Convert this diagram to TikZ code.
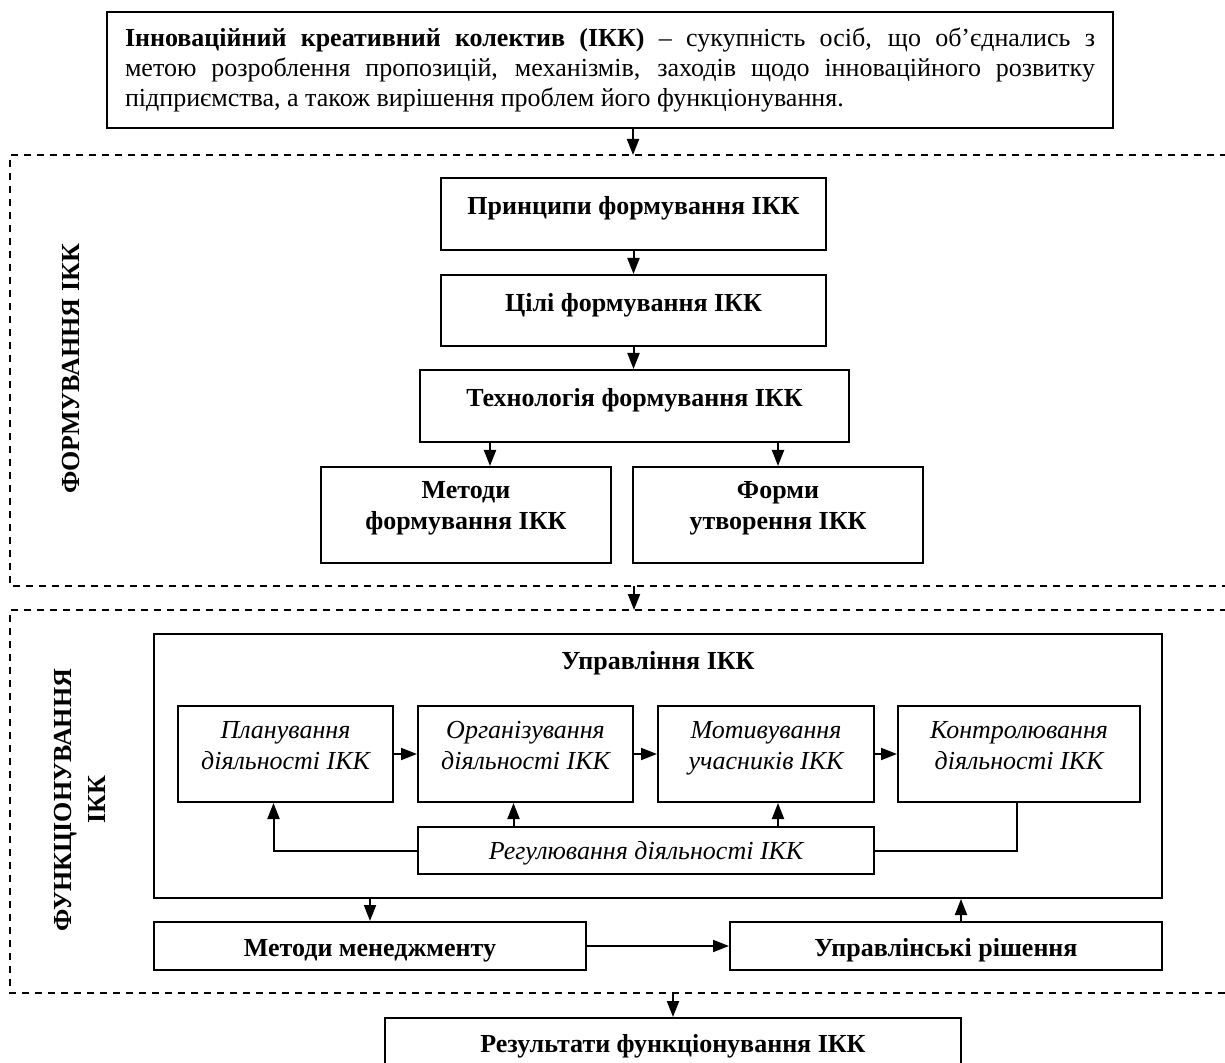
\documentclass[tikz,border=0pt]{standalone}
\usepackage{fontspec}
\setmainfont{Liberation Serif}
\usetikzlibrary{arrows.meta}
\tikzset{
  box/.style={draw, line width=1pt, align=center, inner sep=0pt, font=\fontsize{13}{15.5}\selectfont\bfseries},
  ibox/.style={box, font=\fontsize{13}{15.5}\selectfont\itshape},
  raised/.style={text height=9pt, text depth=8pt},
  raisedtwo/.style={text depth=#1},
  centred/.style={text height=9.5pt, text depth=1pt},
  sunk/.style={text height=12pt, text depth=1.4pt},
  lbl/.style={align=center, inner sep=0pt, font=\fontsize{13}{15.5}\selectfont\bfseries},
  arr/.style={-{Triangle[length=8pt,width=6pt]}, line width=1pt},
  frame/.style={line width=0.75pt, dash pattern=on 3.5pt off 3pt},
}
\begin{document}
\begin{tikzpicture}[x=0.5pt,y=-0.5pt]
  \useasboundingbox (0,0) rectangle (1225,1063);
  % dashed stages
  \draw[frame] (1240,155) -- (10,155) -- (10,586) -- (1240,586);
  \draw[frame] (1240,610) -- (10,610) -- (10,993) -- (1240,993);
  \coordinate (f1n) at (633,155);
  \coordinate (f1s) at (634,586);
  \coordinate (f2n) at (634,610);
  \coordinate (f2s) at (673,993);

  \node[box, font=\fontsize{13}{15}\selectfont, align=justify, text width=485pt,
        minimum width=503pt, minimum height=58pt] (top) at (610,70.5)
    {\textbf{Інноваційний креативний колектив (ІКК)} – сукупність осіб, що об’єднались з\linebreak
     метою розроблення пропозицій, механізмів, заходів щодо інноваційного розвитку\linebreak
     підприємства, а також вирішення проблем його функціонування.};

  % stage 1
  \node[lbl, rotate=90] (lblform) at (71,369) {ФОРМУВАННЯ ІКК};
  \node[box, raised, minimum width=192.5pt, minimum height=36pt] (princ) at (633.5,214) {Принципи формування ІКК};
  \node[box, raised, minimum width=192.5pt, minimum height=35.5pt] (goals) at (633.5,310.5) {Цілі формування ІКК};
  \node[box, raised, minimum width=214.5pt, minimum height=36pt] (tech) at (634.5,406) {Технологія формування ІКК};
  \node[box, raisedtwo=10pt, minimum width=145pt, minimum height=48pt] (meth) at (466,515) {Методи\\формування ІКК};
  \node[box, raisedtwo=10pt, minimum width=145pt, minimum height=48pt] (forms) at (778,515) {Форми\\утворення ІКК};

  % stage 2
  \node[lbl, rotate=90] (lblfunc) at (80,800) {ФУНКЦІОНУВАННЯ\\[1.5pt]ІКК};
  \node[box, minimum width=504pt, minimum height=132pt] (mgmt) at (658,766) {};
  \node[lbl] (mgmttitle) at (658,663) {Управління ІКК};
  \node[ibox, raisedtwo=8.5pt, minimum width=107.5pt, minimum height=48pt] (plan) at (285.5,754) {Планування\\діяльності ІКК};
  \node[ibox, raisedtwo=8.5pt, minimum width=107.5pt, minimum height=48pt] (org) at (525.5,754) {Організування\\діяльності ІКК};
  \node[ibox, raisedtwo=8.5pt, minimum width=108pt, minimum height=48pt] (motiv) at (766,754) {Мотивування\\учасників ІКК};
  \node[ibox, raisedtwo=8.5pt, minimum width=121pt, minimum height=48pt] (ctrl) at (1019,754) {Контролювання\\діяльності ІКК};
  \node[ibox, centred, minimum width=228pt, minimum height=23.5pt] (regul) at (646,850.5) {Регулювання діяльності ІКК};
  \node[box, sunk, minimum width=216pt, minimum height=24pt] (methm) at (370,946) {Методи менеджменту};
  \node[box, sunk, minimum width=216pt, minimum height=24pt] (decis) at (946,946) {Управлінські рішення};

  \node[box, text height=9pt, text depth=9.4pt, minimum width=288pt, minimum height=35pt] (result) at (673,1053) {Результати функціонування ІКК};

  % connectors
  \coordinate (m1) at ([xshift=12pt]meth.north);
  \coordinate (pl1) at ([xshift=-6pt]plan.south);
  \coordinate (o1) at ([xshift=-6pt]org.south);
  \coordinate (mo1) at ([xshift=6pt]motiv.south);
  \coordinate (d1) at ([xshift=7.5pt]decis.north);
  \draw[arr] (top.south -| f1n) -- (f1n);
  \draw[arr] (princ) -- (goals);
  \draw[arr] (goals.south) -- (goals.south |- tech.north);
  \draw[arr] (m1 |- tech.south) -- (m1);
  \draw[arr] (tech.south -| forms.north) -- (forms.north);
  \draw[arr] (f1s) -- (f2n);
  \draw[arr] (plan) -- (org);
  \draw[arr] (org) -- (motiv);
  \draw[arr] (motiv) -- (ctrl);
  \draw[arr] (regul.west) -| (pl1);
  \draw[arr] (o1 |- regul.north) -- (o1);
  \draw[arr] (mo1 |- regul.north) -- (mo1);
  \draw[line width=1pt] ([xshift=-1pt]ctrl.south) |- (regul.east);
  \draw[arr] (mgmt.south -| methm.north) -- (methm.north);
  \draw[arr] (methm) -- (decis);
  \draw[arr] (d1) -- (d1 |- mgmt.south);
  \draw[arr] (f2s) -- (f2s |- result.north);
\end{tikzpicture}
\end{document}
